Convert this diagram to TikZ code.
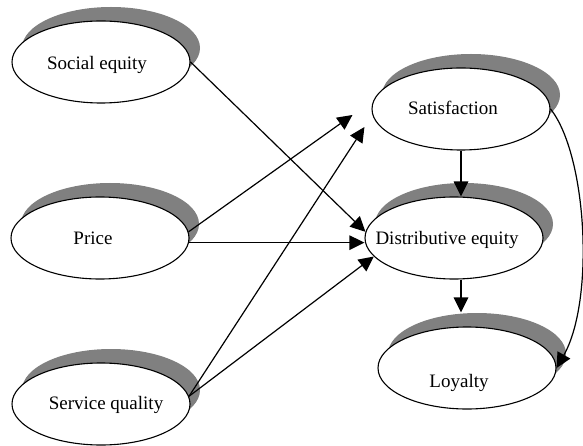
\documentclass[tikz,border=0pt]{standalone}
\usepackage{fontspec}
\setmainfont{Liberation Serif}
\usetikzlibrary{arrows.meta,shadows,shapes.geometric,calc}
\definecolor{shadowgray}{RGB}{128,128,128}
\begin{document}
\begin{tikzpicture}[x=1pt,y=-1pt,
  latent/.style={ellipse, draw, line width=1.1pt, fill=white, minimum width=178pt, minimum height=82pt, inner sep=0pt,
    drop shadow={shadow xshift=10pt, shadow yshift=14pt, fill=shadowgray, opacity=1}},
  lbl/.style={anchor=base, font=\fontsize{19}{22}\selectfont, inner sep=0pt},
  conn/.style={line width=1.2pt, -{Triangle[length=15pt,width=14.5pt]}}]
\useasboundingbox (0,0) rectangle (583,446);
% ellipses
\node[latent] (se) at (101,62) {};
\node[latent] (price) at (100,238) {};
\node[latent] (sq) at (101,404) {};
\node[latent] (sat) at (461,109) {};
\node[latent] (de) at (454,238) {};
\node[latent] (loy) at (467,368) {};
% labels
\node[lbl] (se-t) at (97,70) {Social equity};
\node[lbl] (price-t) at (93,244) {Price};
\node[lbl] (sq-t) at (106,409) {Service quality};
\node[lbl] (sat-t) at (453,115) {Satisfaction};
\node[lbl] (de-t) at (447,244) {Distributive equity};
\node[lbl] (loy-t) at (459,387) {Loyalty};
% connectors
\draw[conn] (se.east) -- (de.176);
\draw[conn] (price.4) -- ([shift={(-19,6)}]sat.west);
\draw[conn] (price.-3) -- (price.-3 -| de.west);
\draw[conn] (sq.5) -- ([shift={(-7,18)}]sat.west);
\draw[conn] (sq.5) -- (de.193);
\draw[conn] (sat.south) -- (sat.south |- de.north);
\draw[conn, shorten >=14pt] (de.south -| sat.south) -- (loy.north -| sat.south);
\draw[conn] (sat.east) .. controls (587,155) and (595,300) .. (loy.east);
\end{tikzpicture}
\end{document}
